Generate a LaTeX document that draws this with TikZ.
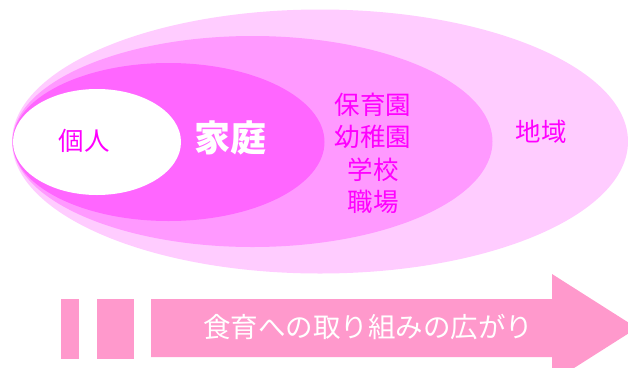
\documentclass[tikz,border=0pt]{standalone}
\usepackage{fontspec}
\setmainfont{Noto Sans CJK JP}
\usetikzlibrary{shapes.geometric}
\definecolor{pOuter}{HTML}{FFCCFF}
\definecolor{pMid}{HTML}{FF99FF}
\definecolor{pIn}{HTML}{FF66FF}
\definecolor{pText}{HTML}{FF00FF}
\definecolor{pArrow}{HTML}{FF99CC}
\tikzset{
  ring/.style={ellipse, inner sep=0pt, draw=none},
  lab/.style={text=pText, font=\fontsize{25.5}{32.5}\selectfont, align=center, inner sep=0pt},
}
\begin{document}
\begin{tikzpicture}[x=1pt,y=-1pt]
\useasboundingbox (0,0) rectangle (628,367);
\clip (0,0) rectangle (628,367);
\node[ring, fill=pOuter, minimum width=616pt, minimum height=264pt] (chiiki) at (320,141.5) {};
\node[ring, fill=pMid, minimum width=480pt, minimum height=211pt] (gakko) at (252.5,141.5) {};
\node[ring, fill=pIn, minimum width=312pt, minimum height=158pt] (katei) at (168.5,142) {};
\node[ring, fill=white, minimum width=168pt, minimum height=106pt] (kojin) at (97,142) {};
\node[lab] (tkojin) at (84,141) {個人};
\node[text=white, font=\fontsize{36}{40}\selectfont\bfseries, inner sep=0pt] (tkatei) at (230,138) {家庭};
\node[lab] (tgakko) at (373,153.5) {保育園\\幼稚園\\学校\\職場};
\node[lab] (tchiiki) at (541,132) {地域};
\fill[pArrow] (60.5,299) rectangle (79,359);
\fill[pArrow] (97,299) rectangle (133.5,359);
\fill[pArrow] (151,299) -- (552,299) -- (552,274) -- (637,328) -- (552,382) -- (552,357) -- (151,357) -- cycle;
\node[text=white, font=\fontsize{27.5}{30}\selectfont, inner sep=0pt] (tarrow) at (368,327) {食育への取り組みの広がり};
\end{tikzpicture}
\end{document}
